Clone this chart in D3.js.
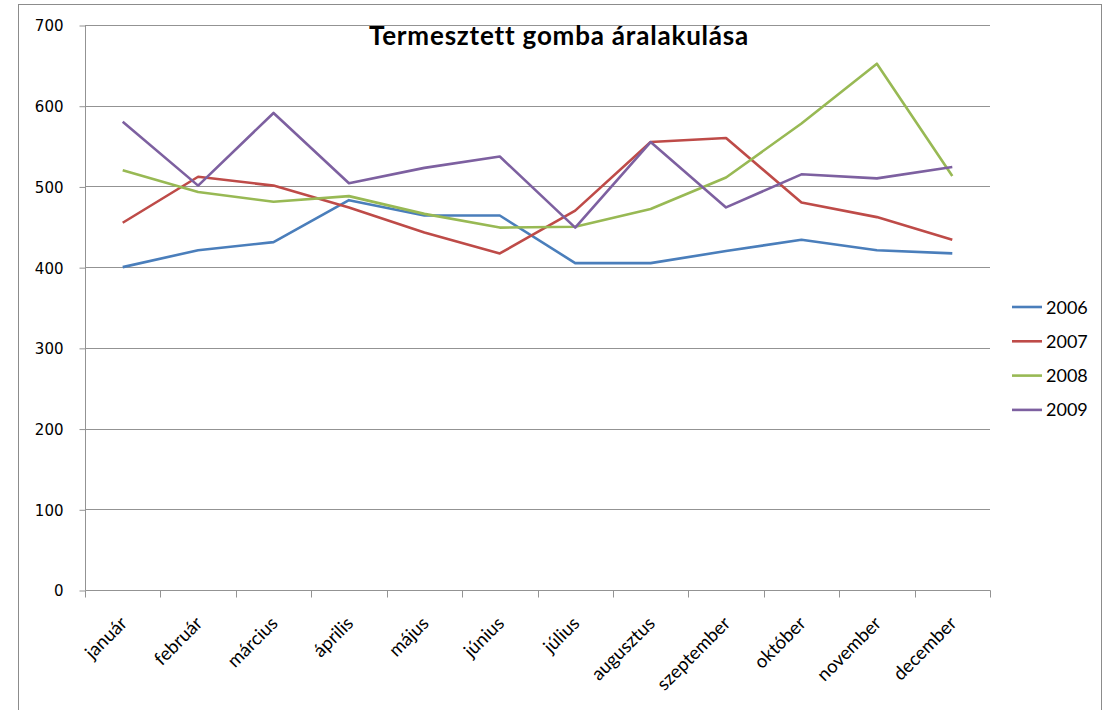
<!DOCTYPE html>
<html>
<head>
<meta charset="utf-8">
<script src="https://cdn.jsdelivr.net/npm/d3@7"></script>
<style>
  html, body { margin: 0; padding: 0; background: #fff; }
  svg { display: block; font-family: Lato, "Open Sans", sans-serif; }
</style>
</head>
<body>
<svg id="chart" width="1106" height="710"></svg>
<script>
// Monthly price of cultivated mushrooms, one line per year
const months = ["január", "február", "március", "április", "május", "június",
  "július", "augusztus", "szeptember", "október", "november", "december"];
const years = ["2006", "2007", "2008", "2009"];
const values2006 = [400, 421, 431, 483, 464, 464, 405, 405, 420, 434, 421, 417];
const values2007 = [455, 512, 501, 474, 443, 417, 470, 555, 560, 480, 462, 434];
const values2008 = [520, 493, 481, 488, 466, 449, 450, 472, 511, 578, 652, 513];
const values2009 = [580, 501, 591, 504, 523, 537, 449, 555, 474, 515, 510, 524];
const yTicks = [0, 100, 200, 300, 400, 500, 600, 700];
const colors = ["#4A7EBB", "#BE4B48", "#98B954", "#7D60A0"];

const series = years.map((y, i) => ({
  name: y,
  values: [values2006, values2007, values2008, values2009][i],
  color: colors[i]
}));

const svg = d3.select("#chart");
const plot = { left: 85, right: 990, top: 25, bottom: 590 };
const axisGrey = "#939393";

// outer chart frame
svg.append("rect")
  .attr("x", 18.5).attr("y", 4.5)
  .attr("width", 1083).attr("height", 720)
  .attr("fill", "none").attr("stroke", "#8c8c8c").attr("stroke-width", 1);

const x = d3.scaleBand().domain(months).range([plot.left, plot.right]);
const y = d3.scaleLinear().domain([0, 700]).range([plot.bottom, plot.top]);

// horizontal gridlines
svg.append("g")
  .selectAll("line")
  .data(yTicks.filter(d => d > 0))
  .join("line")
  .attr("x1", plot.left).attr("x2", plot.right)
  .attr("y1", d => Math.round(y(d)) + 0.5).attr("y2", d => Math.round(y(d)) + 0.5)
  .attr("stroke", axisGrey).attr("stroke-width", 1);

// y axis
const yAxis = svg.append("g")
  .attr("transform", `translate(${plot.left + 0.5},0.5)`)
  .call(d3.axisLeft(y).tickValues(yTicks).tickSize(6).tickPadding(16).tickFormat(d3.format("d")));
yAxis.selectAll("path, line").attr("stroke", axisGrey);
yAxis.select(".domain").attr("d", `M0,${plot.top}V${plot.bottom}`);
yAxis.attr("font-family", "'DejaVu Sans', Verdana, sans-serif").attr("font-size", 15);
yAxis.selectAll("text").attr("fill", "#000").attr("dy", "0.36em");

// x axis with ticks on band boundaries
const xAxisG = svg.append("g").attr("transform", `translate(0.5,${plot.bottom + 0.5})`);
xAxisG.append("line")
  .attr("x1", plot.left).attr("x2", plot.right)
  .attr("stroke", axisGrey);
const boundaries = months.map(m => x(m)).concat([plot.right]);
xAxisG.selectAll("line.tick")
  .data(boundaries)
  .join("line")
  .attr("class", "tick")
  .attr("x1", d => Math.round(d)).attr("x2", d => Math.round(d))
  .attr("y1", 0).attr("y2", 7)
  .attr("stroke", axisGrey);
xAxisG.selectAll("text")
  .data(months)
  .join("text")
  .attr("transform", d => `translate(${x(d) + x.bandwidth() / 2 + 5},${34}) rotate(-45)`)
  .attr("text-anchor", "end")
  .attr("font-size", 18.5)
  .attr("fill", "#000")
  .text(d => d);

// series lines
const line = d3.line()
  .x((d, i) => x(months[i]) + x.bandwidth() / 2)
  .y(d => y(d));

svg.append("g")
  .selectAll("path")
  .data(series)
  .join("path")
  .attr("d", d => line(d.values))
  .attr("fill", "none")
  .attr("stroke", d => d.color)
  .attr("stroke-width", 2.6)
  .attr("stroke-linejoin", "round");

// title
svg.append("text")
  .attr("x", 559).attr("y", 45)
  .attr("text-anchor", "middle")
  .attr("font-size", 26)
  .attr("font-weight", "bold")
  .attr("letter-spacing", 0.8)
  .attr("fill", "#000")
  .text("Termesztett gomba áralakulása");

// legend
const legend = svg.append("g").attr("transform", "translate(1012,307)");
const rows = legend.selectAll("g")
  .data(series)
  .join("g")
  .attr("transform", (d, i) => `translate(0,${i * 34.3})`);
rows.append("line")
  .attr("x1", 0).attr("x2", 30)
  .attr("y1", 0).attr("y2", 0)
  .attr("stroke", d => d.color).attr("stroke-width", 2.6);
rows.append("text")
  .attr("x", 34).attr("y", 6.5)
  .attr("font-size", 18)
  .attr("fill", "#000")
  .text(d => d.name);
</script>
</body>
</html>
